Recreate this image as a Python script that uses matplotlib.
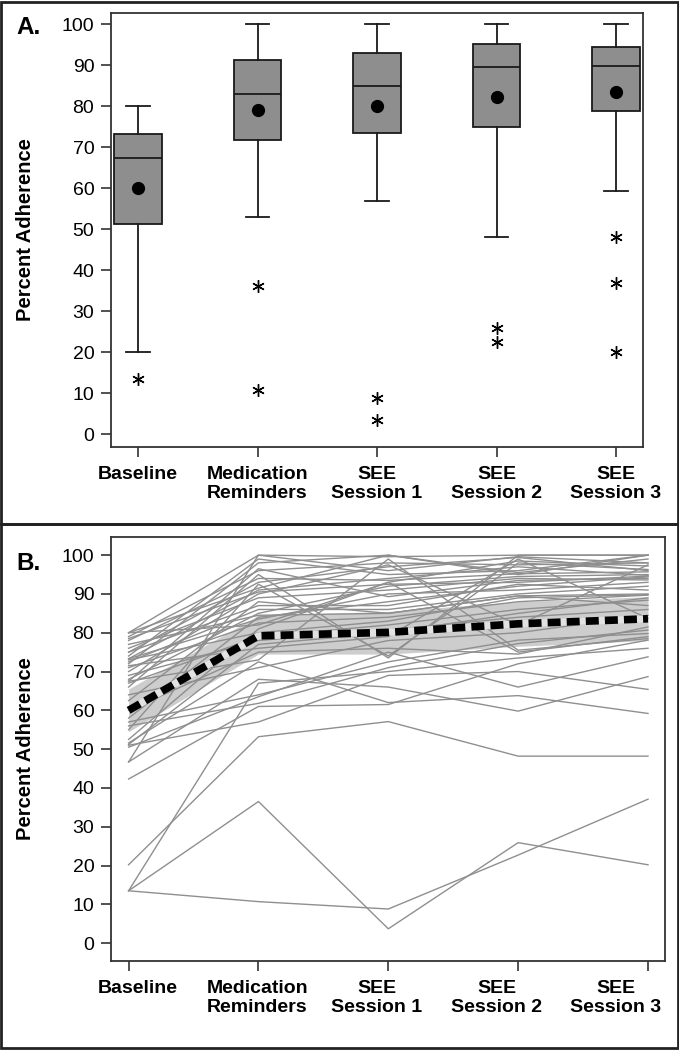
import numpy as np
import matplotlib
matplotlib.use("Agg")
import matplotlib.pyplot as plt
from matplotlib.patches import Rectangle

plt.rcParams['font.family'] = ['Liberation Sans', 'DejaVu Sans']

categories = ["Baseline", "Medication\nReminders", "SEE\nSession 1", "SEE\nSession 2", "SEE\nSession 3"]

# panel A: box plot summary
box_q1 = [51.2, 71.8, 73.6, 75.0, 78.8]
box_med = [67.5, 83.0, 85.0, 89.5, 89.8]
box_q3 = [73.3, 91.2, 93.0, 95.2, 94.6]
whisk_lo = [20.0, 53.0, 57.0, 48.2, 59.3]
whisk_hi = [80.0, 100.0, 100.0, 100.0, 100.0]
box_mean = [60.0, 79.2, 80.1, 82.3, 83.6]
outliers = [[13.5], [36.3, 10.8], [8.8, 3.5], [26.0, 22.6], [48.2, 37.0, 20.0]]

# panel B: individual participants (same order in every list)
baseline = [13.5, 13.5, 13.5, 20.2, 42.3, 46.7, 46.7, 50.5, 51.6, 51.0, 51.2,
            52.5, 55.0, 56.0, 57.0, 58.0, 60.0, 62.5, 64.0, 66.0, 67.0, 67.5,
            67.5, 68.0, 69.0, 70.0, 71.0, 71.5, 72.0, 72.5, 73.0, 73.3, 73.3,
            74.0, 75.0, 75.0, 76.0, 77.0, 78.0, 78.5, 79.0, 80.0, 80.0, 80.0]
reminders = [36.5, 10.7, 67.0, 53.2, 61.0, 100.0, 68.0, 63.5, 72.5, 57.0, 77.0,
             81.0, 92.5, 61.8, 64.0, 84.0, 75.0, 88.0, 71.0, 95.0, 79.0, 96.5,
             73.0, 85.0, 78.0, 90.0, 82.5, 76.0, 98.0, 86.0, 80.0, 91.0, 83.5,
             99.0, 87.0, 93.0, 89.0, 84.5, 94.0, 90.5, 96.0, 100.0, 82.0, 91.5]
session1 = [3.7, 8.8, 70.0, 57.1, 61.5, 96.0, 66.0, 75.0, 62.0, 69.0, 80.0,
            93.0, 74.0, 71.0, 72.5, 88.0, 76.0, 85.0, 78.0, 73.5, 82.0, 89.3,
            99.0, 92.0, 80.7, 97.5, 84.0, 79.0, 100.0, 86.0, 83.0, 94.0, 90.0,
            95.0, 87.0, 97.0, 91.0, 85.0, 93.5, 92.5, 98.0, 99.6, 93.0, 100.0]
session2 = [25.9, 22.7, 73.5, 48.2, 72.0, 99.6, 59.8, 66.0, 63.8, 70.0, 85.0,
            75.0, 98.0, 77.2, 78.1, 92.0, 74.5, 89.5, 80.0, 100.0, 86.0, 93.5,
            75.5, 94.5, 84.0, 82.0, 88.0, 99.0, 95.5, 90.0, 89.0, 97.0, 91.0,
            96.0, 92.5, 99.4, 94.0, 89.5, 95.2, 93.0, 97.5, 100.0, 98.5, 95.0]
session3 = [20.2, 37.1, 76.0, 48.2, 78.1, 98.0, 68.7, 73.8, 59.2, 65.4, 89.0,
            79.0, 96.3, 80.7, 79.8, 94.4, 81.5, 90.0, 84.5, 100.0, 88.4, 94.0,
            78.5, 95.0, 86.0, 97.5, 89.7, 83.7, 99.0, 92.0, 89.8, 94.8, 93.0,
            100.0, 91.0, 96.0, 93.6, 87.0, 95.7, 94.6, 98.0, 100.0, 97.2, 100.0]

mean_adherence = [60.0, 79.2, 80.1, 82.3, 83.6]
ci_low = [54.5, 74.5, 74.5, 76.5, 78.0]
ci_high = [65.5, 84.5, 85.5, 88.0, 89.3]

fig = plt.figure(figsize=(6.79, 10.5), dpi=100)
W, H = 679.0, 1050.0

axA = fig.add_axes([111 / W, 1 - 446.7 / H, (642.7 - 111) / W, (446.7 - 13.3) / H])
axB = fig.add_axes([111 / W, 1 - 961 / H, (665 - 111) / W, (961 - 537.3) / H])

edge = '#1a1a1a'
stats = []
for i in range(len(categories)):
    stats.append(dict(q1=box_q1[i], med=box_med[i], q3=box_q3[i],
                      whislo=whisk_lo[i], whishi=whisk_hi[i],
                      mean=box_mean[i], fliers=outliers[i]))

axA.bxp(stats, positions=range(5), widths=0.4, patch_artist=True, showmeans=True,
        boxprops=dict(facecolor='#8e8e8e', edgecolor=edge, linewidth=1.3),
        medianprops=dict(color=edge, linewidth=1.3),
        whiskerprops=dict(color=edge, linewidth=1.3),
        capprops=dict(color=edge, linewidth=1.3),
        meanprops=dict(marker='o', markerfacecolor='black', markeredgecolor='black', markersize=8.5),
        flierprops=dict(marker=(6, 2, 0), markersize=9, markeredgecolor='black',
                        markeredgewidth=1.0, linestyle='none'))
axA.set_xlim(-0.226, 4.223)
axA.set_ylim(-3.0, 102.7)

# panel B: spaghetti lines + mean with confidence band
x = np.arange(5)
series = np.array([baseline, reminders, session1, session2, session3])
axB.fill_between(x, ci_low, ci_high, color='#cdcdcd', lw=0, zorder=1)
for j in range(series.shape[1]):
    axB.plot(x, series[:, j], color='#8f8f8f', lw=1.0, zorder=2)
axB.plot(x, mean_adherence, color='#e2e2e2', lw=5.0, zorder=3, solid_capstyle='butt')
axB.plot(x, mean_adherence, color='black', lw=5.5, zorder=4, dashes=(1.7, 0.8),
         dash_capstyle='butt')
axB.set_xlim(-0.1355, 4.131)
axB.set_ylim(-4.6, 104.6)

for ax in (axA, axB):
    ax.set_yticks(range(0, 101, 10))
    ax.set_xticks(range(5))
    ax.set_xticklabels([''] * 5)
    ax.tick_params(axis='both', length=7, width=1.2, color='#333333', labelsize=14, pad=5)
    for s in ax.spines.values():
        s.set_color('#333333')
        s.set_linewidth(1.3)
    # category labels sit at the same spots in both panels
    for i, lab in enumerate(categories):
        ax.annotate(lab, xy=(i, 0), xycoords=(axA.transData, ax.transAxes),
                    xytext=(0, -19), textcoords='offset pixels',
                    ha='center', va='top', fontsize=14, fontweight='bold',
                    multialignment='center', linespacing=1.15)

fig.text(25.5 / W, 1 - 229.5 / H, 'Percent Adherence', rotation=90, ha='center', va='center',
         fontsize=14.5, fontweight='bold')
fig.text(25.5 / W, 1 - 749 / H, 'Percent Adherence', rotation=90, ha='center', va='center',
         fontsize=14.5, fontweight='bold')
fig.text(16 / W, 1 - 34.3 / H, 'A.', fontsize=17.5, fontweight='bold', va='baseline')
fig.text(16 / W, 1 - 570 / H, 'B.', fontsize=17.5, fontweight='bold', va='baseline')

# panel frames
fig.add_artist(Rectangle((0.0015, 0.5005), 0.997, 0.498, transform=fig.transFigure,
                         fill=False, lw=2.0, ec='#222222'))
fig.add_artist(Rectangle((0.0015, 0.0015), 0.997, 0.499, transform=fig.transFigure,
                         fill=False, lw=2.0, ec='#222222'))

fig.savefig('out.png', dpi=100)
